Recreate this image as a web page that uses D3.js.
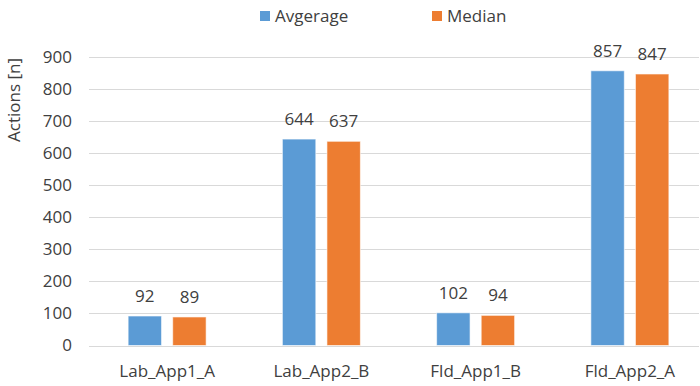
<!DOCTYPE html>
<html>
<head>
<meta charset="utf-8">
<script src="https://cdn.jsdelivr.net/npm/d3@7"></script>
<style>
  body { margin: 0; background: #fff; }
  text { font-family: "Open Sans", "Liberation Sans", sans-serif; fill: #404040; }
</style>
</head>
<body>
<div id="chart"></div>
<script>
const categories = ["Lab_App1_A", "Lab_App2_B", "Fld_App1_B", "Fld_App2_A"];
const seriesNames = ["Avgerage", "Median"];
const averageValues = [92, 644, 102, 857];
const medianValues = [89, 637, 94, 847];
const yTicks = [0, 100, 200, 300, 400, 500, 600, 700, 800, 900];

const color = d3.scaleOrdinal()
  .domain(seriesNames)
  .range(["#5B9BD5", "#ED7D31"]);

const width = 700, height = 386;
const margin = {top: 57, bottom: 40, left: 89, right: 1};
const fs = 17;

const rows = categories.map((c, i) => ({
  cat: c,
  values: [
    {key: seriesNames[0], value: averageValues[i]},
    {key: seriesNames[1], value: medianValues[i]}
  ]
}));

const svg = d3.select("#chart")
  .append("svg")
  .attr("width", width)
  .attr("height", height);

const x = d3.scaleBand()
  .domain(categories)
  .range([90, 707]);

const x1 = d3.scaleBand()
  .domain(seriesNames)
  .range([x.bandwidth() / 2 - 39, x.bandwidth() / 2 + 39])
  .paddingInner(0.25);

const y = d3.scaleLinear()
  .domain([0, 900])
  .range([height - margin.bottom - 0.5, margin.top]);

// gridlines
svg.append("g")
  .selectAll("line")
  .data(yTicks)
  .join("line")
  .attr("x1", margin.left)
  .attr("x2", width - margin.right)
  .attr("y1", d => Math.round(y(d)) + 0.5)
  .attr("y2", d => Math.round(y(d)) + 0.5)
  .attr("stroke", "#d9d9d9")
  .attr("stroke-width", 1);

// y axis labels
const yAxis = d3.axisLeft(y).tickValues(yTicks).tickSize(0).tickPadding(0);
svg.append("g")
  .attr("transform", `translate(${margin.left - 17},0)`)
  .call(yAxis)
  .call(g => g.select(".domain").remove())
  .call(g => g.selectAll("text")
    .attr("font-size", fs)
    .attr("fill", "#404040")
    .attr("font-family", "Open Sans, Liberation Sans, sans-serif"));

// y title
svg.append("text")
  .attr("transform", "translate(20,100) rotate(-90)")
  .attr("text-anchor", "middle")
  .attr("font-size", fs)
  .text("Actions [n]");

// x axis labels
const xAxis = d3.axisBottom(x).tickSize(0).tickPadding(0);
svg.append("g")
  .attr("transform", `translate(0,${height - 9})`)
  .call(xAxis)
  .call(g => g.select(".domain").remove())
  .call(g => g.selectAll("text")
    .attr("dy", 0)
    .attr("font-size", fs)
    .attr("fill", "#404040")
    .attr("font-family", "Open Sans, Liberation Sans, sans-serif"));

// bars
const group = svg.append("g")
  .selectAll("g")
  .data(rows)
  .join("g")
  .attr("transform", d => `translate(${x(d.cat)},0)`);

group.selectAll("rect")
  .data(d => d.values)
  .join("rect")
  .attr("x", d => x1(d.key))
  .attr("y", d => y(d.value))
  .attr("width", x1.bandwidth())
  .attr("height", d => y(0) - y(d.value))
  .attr("fill", d => color(d.key))
  .attr("stroke", "#ffffff")
  .attr("stroke-opacity", 0.6)
  .attr("stroke-width", 1);

group.selectAll(".val")
  .data(d => d.values)
  .join("text")
  .attr("class", "val")
  .attr("x", d => x1(d.key) + x1.bandwidth() / 2)
  .attr("y", d => y(d.value) - 14)
  .attr("text-anchor", "middle")
  .attr("font-size", fs)
  .text(d => d.value);

// legend
const legendPos = [260, 432];
const legend = svg.append("g")
  .selectAll("g")
  .data(seriesNames)
  .join("g")
  .attr("transform", (d, i) => `translate(${legendPos[i]},10)`);

legend.append("rect")
  .attr("width", 10)
  .attr("height", 10)
  .attr("y", 1)
  .attr("fill", d => color(d));

legend.append("text")
  .attr("x", 15)
  .attr("y", 12)
  .attr("font-size", fs)
  .text(d => d);
</script>
</body>
</html>
